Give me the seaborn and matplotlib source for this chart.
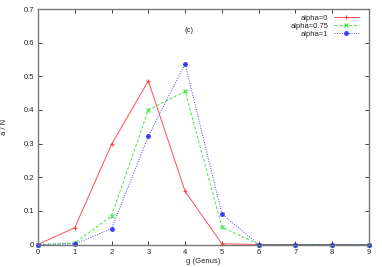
import matplotlib
matplotlib.use("Agg")
import matplotlib.pyplot as plt
import seaborn as sns
import pandas as pd

genus = [0, 1, 2, 3, 4, 5, 6, 7, 8, 9]
alpha0 = [0.0, 0.05, 0.298, 0.486, 0.158, 0.002, 0.0, 0.0, 0.0, 0.0]
alpha075 = [0.0, 0.004, 0.085, 0.400, 0.455, 0.052, 0.0, 0.0, 0.0, 0.0]
alpha1 = [0.0, 0.002, 0.047, 0.322, 0.537, 0.091, 0.0, 0.0, 0.0, 0.0]
labels = ["alpha=0", "alpha=0.75", "alpha=1"]
x_ticks = [0, 1, 2, 3, 4, 5, 6, 7, 8, 9]
y_ticks = [0, 0.1, 0.2, 0.3, 0.4, 0.5, 0.6, 0.7]
y_tick_labels = ["0", "0.1", "0.2", "0.3", "0.4", "0.5", "0.6", "0.7"]

sns.set_style("ticks")
plt.rcParams["font.family"] = ["Liberation Sans", "DejaVu Sans"]

fig = plt.figure(figsize=(3.82, 2.67), dpi=100)
ax = fig.add_axes([38 / 382, 1 - 244.5 / 267, (369 - 38) / 382, (244.5 - 9) / 267])

styles = [
    dict(color="#ff3030", marker="+", linestyle="-", ms=3.5),
    dict(color="#20e020", marker="x", linestyle=(0, (3, 2)), ms=2.5),
    dict(color="#2020ff", marker=(8, 2, 0), linestyle=(0, (1, 1.5)), ms=3.5),
]
lines = []
for vals, lab, st in zip([alpha0, alpha075, alpha1], labels, styles):
    df = pd.DataFrame({"g": genus, "v": vals})
    n0 = len(ax.lines)
    sns.lineplot(data=df, x="g", y="v", ax=ax, color=st["color"], legend=False)
    ln = ax.lines[n0]
    ln.set_linestyle(st["linestyle"])
    ln.set_linewidth(0.7)
    ln.set_marker(st["marker"])
    ln.set_markersize(st["ms"])
    ln.set_markeredgewidth(0.8)
    ln.set_markeredgecolor(st["color"])
    ln.set_markerfacecolor(st["color"])
    ln.set_alpha(0.85)
    ln.set_label(lab)
    ln.set_clip_on(False)
    lines.append(ln)

ax.set_xlim(0, 9)
ax.set_ylim(0, 0.7)
ax.set_xticks(x_ticks)
ax.set_yticks(y_ticks)
ax.set_yticklabels(y_tick_labels)
ax.tick_params(direction="in", top=True, right=True, length=3, width=0.6,
               labelsize=5.5, pad=3, colors="#222222")
for s in ax.spines.values():
    s.set_color("#777777")
    s.set_linewidth(1.0)
ax.set_xlabel("g (Genus)", fontsize=5.5, labelpad=2)
ax.set_ylabel("a / N", fontsize=5.5)
ax.yaxis.set_label_coords(-0.092, 0.5)
ax.text(0.455, 0.91, "(c)", transform=ax.transAxes, ha="center", va="center", fontsize=5.5)

leg = ax.legend(handles=lines, loc="upper right", fontsize=5.5, frameon=False, markerfirst=False,
                handlelength=3.2, handletextpad=0.8, labelspacing=0.1,
                borderaxespad=0.3, bbox_to_anchor=(0.985, 1.0), numpoints=1)

fig.savefig("out.png", dpi=100)
